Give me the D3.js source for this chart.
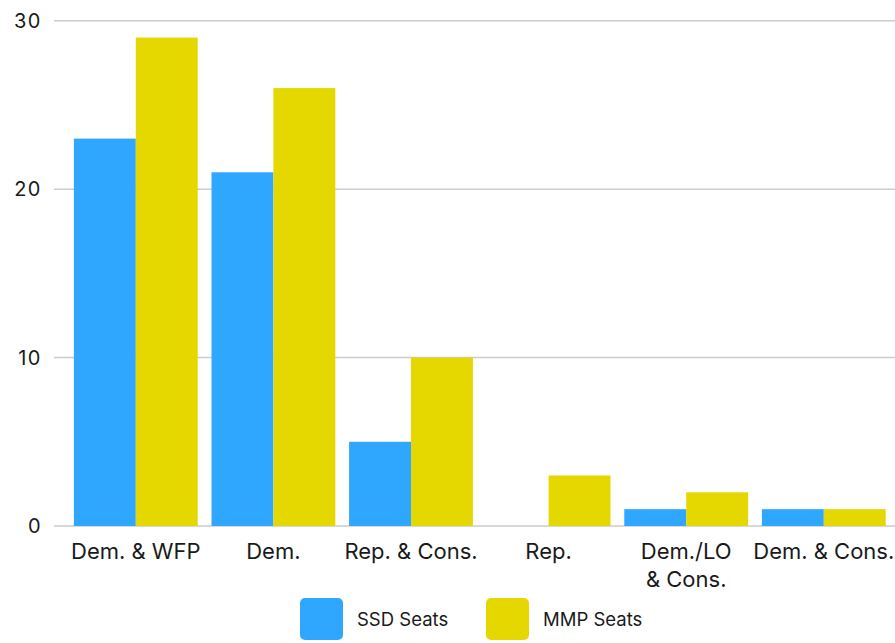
<!DOCTYPE html>
<html>
<head>
<meta charset="utf-8">
<script src="https://cdn.jsdelivr.net/npm/d3@7"></script>
<style>
  body { margin: 0; background: #fff; }
  text { font-family: Inter, "Noto Sans", sans-serif; fill: #1a1a1a; }
</style>
</head>
<body>
<div id="chart"></div>
<script>
// Chart data
const categories = ["Dem. & WFP", "Dem.", "Rep. & Cons.", "Rep.", "Dem./LO\n& Cons.", "Dem. & Cons."];
const seriesNames = ["SSD Seats", "MMP Seats"];
const ssdSeats = [23, 21, 5, 0, 1, 1];
const mmpSeats = [29, 26, 10, 3, 2, 1];
const yTicks = [0, 10, 20, 30];
const colors = ["#30a7fe", "#e4d800"];

const W = 895, H = 643;

const svg = d3.select("#chart")
    .append("svg")
    .attr("width", W)
    .attr("height", H);

// Scales
const x = d3.scaleBand()
    .domain(categories)
    .range([67, 892.6])
    .paddingInner(0.1)
    .paddingOuter(0.05);

const xs = d3.scaleBand()
    .domain(seriesNames)
    .range([0, x.bandwidth()]);

const y = d3.scaleLinear()
    .domain([0, 30])
    .range([526, 20.7]);

// Gridlines
svg.append("g")
    .selectAll("line")
    .data(yTicks)
    .enter()
    .append("line")
    .attr("x1", 54)
    .attr("x2", W)
    .attr("y1", d => y(d))
    .attr("y2", d => y(d))
    .attr("stroke", "#cccccc")
    .attr("stroke-width", 1.5);

// Y labels
svg.append("g")
    .selectAll("text")
    .data(yTicks)
    .enter()
    .append("text")
    .attr("x", 42)
    .attr("y", d => y(d))
    .attr("dy", "0.36em")
    .attr("text-anchor", "end")
    .attr("font-size", "20px")
    .attr("letter-spacing", "1.5px")
    .text(d => d);

// Bars
const rows = categories.map((c, i) => ({ cat: c, values: [ssdSeats[i], mmpSeats[i]] }));

const groups = svg.append("g")
    .selectAll("g")
    .data(rows)
    .enter()
    .append("g")
    .attr("transform", d => `translate(${x(d.cat)},0)`);

groups.selectAll("rect")
    .data(d => d.values.map((v, j) => ({ key: seriesNames[j], value: v, j: j })))
    .enter()
    .filter(d => d.value > 0)
    .append("rect")
    .attr("x", d => xs(d.key))
    .attr("width", xs.bandwidth())
    .attr("y", d => y(d.value))
    .attr("height", d => y(0) - y(d.value))
    .attr("fill", d => colors[d.j]);

// Category labels
const labels = svg.append("g")
    .selectAll("text")
    .data(categories)
    .enter()
    .append("text")
    .attr("x", d => x(d) + x.bandwidth() / 2)
    .attr("y", 559)
    .attr("text-anchor", "middle")
    .attr("font-size", "22px");

labels.selectAll("tspan")
    .data(d => d.split("\n"))
    .enter()
    .append("tspan")
    .attr("x", function () { return d3.select(this.parentNode).attr("x"); })
    .attr("dy", (d, i) => i === 0 ? 0 : 28)
    .text(d => d);

// Legend
const legendX = [300, 486];
const legend = svg.append("g")
    .selectAll("g")
    .data(seriesNames)
    .enter()
    .append("g")
    .attr("transform", (d, i) => `translate(${legendX[i]},598)`);

legend.append("rect")
    .attr("width", 43)
    .attr("height", 42)
    .attr("rx", 5)
    .attr("fill", (d, i) => colors[i]);

legend.append("text")
    .attr("x", 57)
    .attr("y", 27.5)
    .attr("font-size", "18.5px")
    .text(d => d);
</script>
</body>
</html>
